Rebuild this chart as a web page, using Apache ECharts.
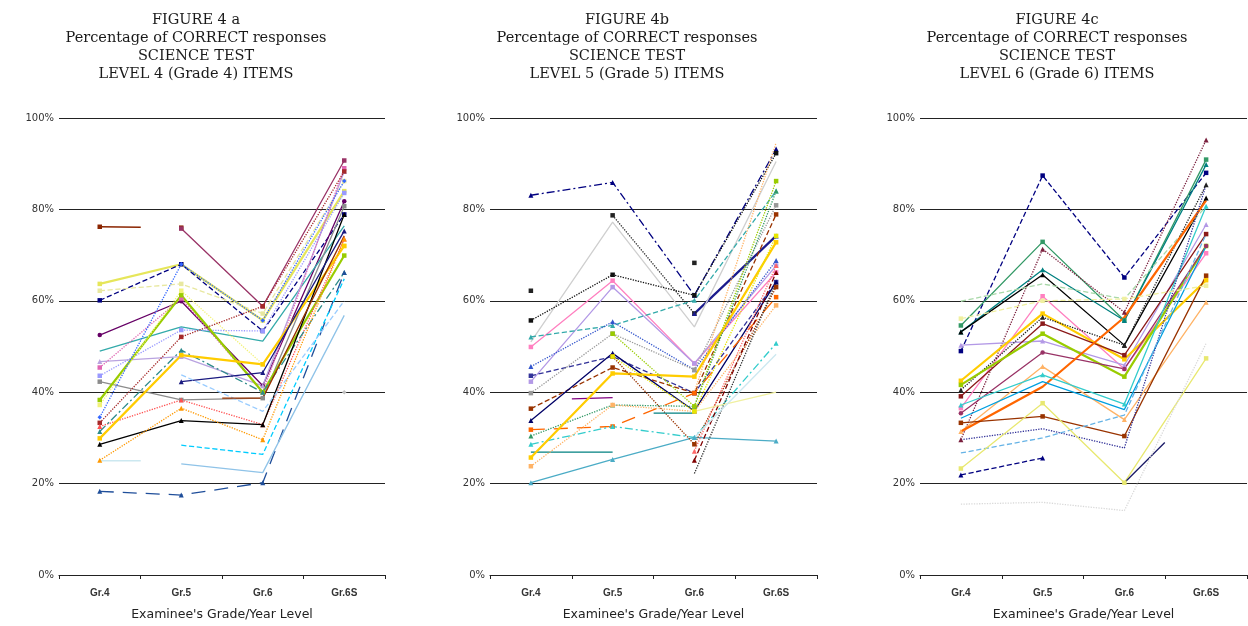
<!DOCTYPE html>
<html>
<head>
<meta charset="utf-8">
<script src="https://cdn.jsdelivr.net/npm/echarts@6/dist/echarts.min.js"></script>
<style>html,body{margin:0;padding:0;background:#fff}#c{width:1248px;height:626px}</style>
</head>
<body>
<div id="c"></div>
<script>
// ---------- DATA ----------
const categories = ['Gr.4', 'Gr.5', 'Gr.6', 'Gr.6S'];
const yTicks = [0, 20, 40, 60, 80, 100];
const titlesA = ['FIGURE 4 a', 'Percentage of CORRECT responses', 'SCIENCE TEST', 'LEVEL 4 (Grade 4) ITEMS'];
const titlesB = ['FIGURE 4b', 'Percentage of CORRECT responses', 'SCIENCE TEST', 'LEVEL 5 (Grade 5) ITEMS'];
const titlesC = ['FIGURE 4c', 'Percentage of CORRECT responses', 'SCIENCE TEST', 'LEVEL 6 (Grade 6) ITEMS'];
const xAxisName = "Examinee's Grade/Year Level";

// Panel a values (percent correct per item, by grade)
const panelA = [
  [76.2, 76.0, null, null],
  [null, 75.8, 58.8, 90.7],
  [63.7, 68.0, 55.7, 84.0],
  [60.1, 68.0, 53.4, 78.9],
  [62.2, 63.7, 57.2, 86.2],
  [52.5, 59.9, 41.4, 81.8],
  [49.0, 54.3, 51.2, 76.4],
  [46.7, 47.8, 41.4, 88.3],
  [45.4, 60.5, 40.0, 89.0],
  [43.6, 53.6, 53.4, 83.6],
  [42.3, 38.3, 38.7, 80.7],
  [38.3, 61.2, 40.0, 69.9],
  [37.2, 62.2, 46.1, 72.0],
  [34.5, 68.0, 55.7, 86.2],
  [33.3, 52.1, 58.8, 88.3],
  [32.5, 38.3, 32.9, 73.5],
  [31.4, 49.2, 40.0, 66.2],
  [29.9, 48.1, 46.1, 72.0],
  [28.6, 33.8, 32.9, 78.9],
  [25.1, 36.5, 29.6, 73.5],
  [25.0, 25.0, null, null],
  [18.3, 17.5, 20.2, 66.2],
  [null, 28.4, 26.4, 64.8],
  [null, 42.3, 44.3, 75.3],
  [null, 43.8, 35.8, 60.0],
  [null, 24.3, 22.4, 56.8],
  [null, 38.7, 38.7, 74.2],
  [null, null, null, 40.0]
];

// Panel b values
const panelB = [
  [83.1, 85.9, 61.2, 93.2],
  [null, 78.7, 57.2, null],
  [null, null, 57.2, 74.2],
  [62.2, null, 68.3, null],
  [51.0, 77.2, 54.3, 90.5],
  [55.7, 65.7, 61.2, 92.3],
  [49.9, 64.4, 46.3, 66.2],
  [42.3, 63.0, 46.3, 67.7],
  [52.1, 54.6, 60.1, 84.0],
  [45.6, 55.4, 44.9, 68.8],
  [43.6, 47.8, 39.8, 64.1],
  [39.8, 52.8, 44.9, 80.9],
  [38.3, 38.8, null, null],
  [36.4, 45.4, 39.8, 78.9],
  [33.8, 48.5, 35.9, 64.1],
  [31.8, 32.5, 39.8, 60.8],
  [30.4, 37.2, 36.9, 84.0],
  [28.6, 32.5, 30.1, 50.7],
  [26.9, 26.9, null, null],
  [25.7, 44.1, 43.4, 72.8],
  [23.8, 37.2, 35.8, 59.0],
  [20.2, 25.3, 30.1, 29.3],
  [null, 47.8, 28.6, 63.0],
  [null, 47.8, 35.8, 74.2],
  [null, null, 27.1, 67.7],
  [null, null, 25.1, 66.2],
  [null, null, 22.2, 64.1],
  [null, null, 35.8, 40.0],
  [null, 52.8, 36.9, 86.2],
  [null, 35.4, 35.4, null],
  [null, null, 40.0, 94.6],
  [null, null, 30.1, 48.3]
];

// Panel c values
const panelC = [
  [49.0, 87.4, 65.1, 88.0],
  [54.6, 72.9, 55.7, 90.9],
  [29.6, 71.3, 57.5, 95.2],
  [53.2, 66.8, 55.7, 89.8],
  [53.2, 65.7, 50.3, 82.5],
  [59.9, 63.7, 60.4, 80.7],
  [36.5, 61.0, 45.1, 70.4],
  [50.3, 51.2, 45.9, 76.7],
  [42.5, 57.2, 47.2, 64.5],
  [40.5, 56.4, 50.3, 85.4],
  [39.1, 55.0, 48.1, 74.6],
  [41.6, 52.8, 43.4, 72.0],
  [35.4, 48.7, 45.1, 72.0],
  [31.4, 45.6, 34.0, 59.7],
  [31.4, 41.2, 56.4, 82.0],
  [37.2, 43.8, 37.4, 80.7],
  [34.3, 42.3, 36.2, 72.0],
  [33.3, 34.7, 30.4, 65.5],
  [29.6, 32.0, 27.8, 85.4],
  [26.7, 30.0, 35.0, 74.6],
  [23.3, 37.6, 20.2, 47.4],
  [21.9, 25.6, null, null],
  [null, null, 20.2, 38.0],
  [15.5, 15.9, 14.1, 50.7],
  [56.1, 60.0, 60.4, 63.3]
];

// ---------- STYLES ----------
const colorsA = ['#8B2500','#993366','#E6E65A','#000080','#E8E8A0','#660066','#33AAAA','#B9A3E0','#E066B3','#9999FF','#8C8C8C','#99CC00','#F2F27A','#3366FF','#A52A2A','#FF5050','#2E8B8B','#FFCC00','#000000','#FF9900','#CCE8F0','#1F4E9A','#00CCFF','#1A1A80','#99CCFF','#8FC3E8','#993300','#C0C0C0'];
const linesA = ['half','solid','solid','dashed','dashed','solid','solid','solid','dotted','dotted','solid','solid','dotted','dotted','dotted','dotted','dashdot','solid','solid','dotted','half','long','dashed','solid','dashed','solid','off','solid'];
const symA = 'rrrrrcntrrrrrdrttrttntntnnnd';
const thickA = [2, 11, 17];

const colorsB = ['#000080','#222222','#1A1A8C','#222222','#CFCFCF','#111111','#FF80C0','#B399E6','#33AAAA','#3355CC','#333399','#999999','#800080','#993300','#000066','#FF6600','#339966','#33CCCC','#008080','#FFCC00','#FFB366','#4BACC6','#993300','#E6E600','#FF6666','#800000','#333333','#F0F0A0','#99CC00','#008080','#FFB366','#CCE8F0'];
const linesB = ['dashdot','dotted','solid','none','solid','dotted','solid','solid','dashed','dotted','dashed','dotted','off','dashed','solid','long','dotted','dashdot','solid','solid','dotted','solid','dotted','dotted','dotted','dashed','dotted','solid','dotted','off','dotted','solid'];
const symB = 'trtrnrrrttrrnrtrttnrrtrrttnnrnnn';
const thickB = [2, 19];

const colorsC = ['#000080','#339966','#7A1F3D','#008080','#000000','#A8D8A8','#FF80C0','#B399E6','#FFCC00','#222222','#8B1A1A','#99CC00','#993366','#FFB366','#FF6600','#33CCCC','#00A0E0','#993300','#333399','#66B3E6','#E8E870','#000080','#1A1A66','#D9D9D9','#F0F0A0'];
const linesC = ['dashed','solid','dotted','solid','solid','dashed','solid','solid','solid','dotted','solid','solid','solid','solid','solid','solid','solid','solid','dotted','dashed','solid','dashed','half2','dotted','dashed'];
const symC = 'rrtttnrtrtrrctntnrnnrtnnr';
const thickC = [8, 11, 14];

const symbolMap = { r: 'rect', t: 'triangle', d: 'diamond', c: 'circle', n: 'none' };
const dashMap = {
  solid: { type: 'solid' },
  dashed: { type: 'dashed' },
  dotted: { type: 'dotted' },
  dashdot: { type: [8, 3, 2, 3] },
  long: { type: [14, 9] },
  half: { type: [41, 3000] },
  half2: { type: [57, 3000] },
  off: { type: [3000, 41], dashOffset: 3000 },
  none: { type: 'solid', width: 0 }
};

function buildSeries(values, colors, lines, syms, thick, idx) {
  return values.map((d, i) => {
    const ls = dashMap[lines[i]] || dashMap.solid;
    const w = ls.width !== undefined ? ls.width : (thick.indexOf(i) >= 0 ? 2.2 : 1.3);
    const sym = symbolMap[syms[i]] || 'none';
    return {
      type: 'line',
      xAxisIndex: idx,
      yAxisIndex: idx,
      data: d,
      connectNulls: false,
      symbol: sym,
      symbolSize: sym === 'triangle' ? 5 : 4.5,
      showSymbol: sym !== 'none',
      animation: false,
      silent: true,
      lineStyle: Object.assign({}, { color: colors[i], width: w, type: ls.type }, ls.dashOffset ? { dashOffset: ls.dashOffset } : {}),
      itemStyle: { color: colors[i] }
    };
  });
}

// ---------- LAYOUT ----------
const grids = [
  { left: 59, width: 326, top: 118, bottom: 48 },
  { left: 490, width: 327, top: 118, bottom: 48 },
  { left: 920, width: 327, top: 118, bottom: 48 }
];
const titleCenters = [196, 627, 1057];

const xAxes = grids.map((g, i) => ({
  type: 'category',
  gridIndex: i,
  data: categories,
  boundaryGap: true,
  axisLine: { show: true, lineStyle: { color: '#222', width: 1.2 } },
  axisTick: { show: true, length: 4, alignWithLabel: false, lineStyle: { color: '#222' } },
  axisLabel: { margin: 13, fontFamily: 'Liberation Sans', fontSize: 10, fontWeight: 'bold', color: '#333' },
  name: xAxisName,
  nameLocation: 'middle',
  nameGap: 33,
  nameTextStyle: { fontFamily: 'DejaVu Sans', fontSize: 12.5, color: '#222' }
}));

const yAxes = grids.map((g, i) => ({
  type: 'value',
  gridIndex: i,
  min: yTicks[0],
  max: yTicks[yTicks.length - 1],
  interval: 20,
  axisLine: { show: false },
  axisTick: { show: false },
  splitLine: { show: true, lineStyle: { color: '#222', width: 1.2 } },
  axisLabel: { margin: 5, fontFamily: 'DejaVu Sans', fontSize: 10, color: '#333', formatter: '{value}%' }
}));

const titleTexts = [titlesA, titlesB, titlesC];
const graphics = titleTexts.map((t, i) => ({
  type: 'text',
  x: titleCenters[i],
  y: 11,
  style: {
    text: t.join('\n'),
    textAlign: 'center',
    textVerticalAlign: 'top',
    fontFamily: 'DejaVu Serif',
    fontSize: 14.5,
    lineHeight: 18,
    fill: '#1a1a1a'
  }
}));

const series = [].concat(
  buildSeries(panelA, colorsA, linesA, symA, thickA, 0),
  buildSeries(panelB, colorsB, linesB, symB, thickB, 1),
  buildSeries(panelC, colorsC, linesC, symC, thickC, 2)
);

const chart = echarts.init(document.getElementById('c'), null, { renderer: 'canvas' });
chart.setOption({
  backgroundColor: '#fff',
  animation: false,
  grid: grids,
  xAxis: xAxes,
  yAxis: yAxes,
  graphic: graphics,
  series: series
});
</script>
</body>
</html>
